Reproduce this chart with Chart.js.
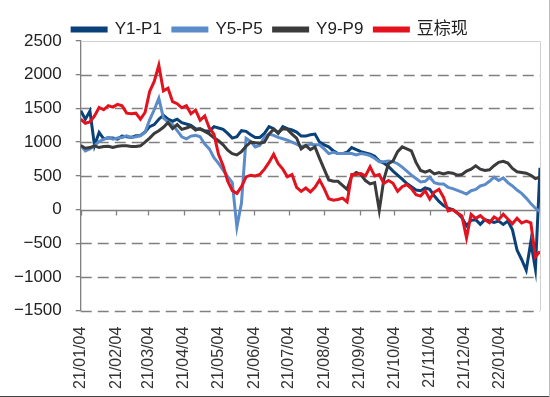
<!DOCTYPE html>
<html>
<head>
<meta charset="utf-8">
<script src="https://cdn.jsdelivr.net/npm/chart.js@4.4.0/dist/chart.umd.min.js"></script>
<style>
  html, body { margin: 0; padding: 0; background: #fff; }
</style>
</head>
<body>
<canvas id="spreadChart" width="550" height="397"></canvas>
<script>
// x = days since 2021/01/04, one reading every 4 days
const sampleDays = Array.from({ length: 101 }, (_, i) => i * 4);

const monthTickDays = [0, 31, 59, 90, 120, 151, 181, 212, 243, 273, 304, 334, 365];
const monthTickLabels = ['21/01/04', '21/02/04', '21/03/04', '21/04/04', '21/05/04', '21/06/04',
  '21/07/04', '21/08/04', '21/09/04', '21/10/04', '21/11/04', '21/12/04', '22/01/04'];

const yTicks = [-1500, -1000, -500, 0, 500, 1000, 1500, 2000, 2500];

const seriesNames = ['Y1-P1', 'Y5-P5', 'Y9-P9', '豆棕现'];

const y1p1 = [
  1465, 1340, 1460, 950, 1145, 1050, 1060, 1060, 1045, 1090,
  1080, 1070, 1095, 1100, 1150, 1230, 1260, 1340, 1400, 1340,
  1310, 1340, 1290, 1270, 1250, 1200, 1190, 1170, 1160, 1230,
  1210, 1190, 1130, 1060, 1080, 1170, 1160, 1110, 1070, 1070,
  1130, 1230, 1200, 1130, 1230, 1200, 1180, 1150, 1090, 1090,
  1110, 1120, 1000, 960, 930, 870, 830, 830, 850, 920,
  890, 860, 840, 820, 790, 720, 690, 640, 570, 510,
  450, 386, 340, 290, 280, 320, 300, 200, 120, 60,
  20, 0, -50, -120, -240, -160, -150, -220, -150, -170,
  -190, -170, -220, -170, -300, -600, -740, -900, -480, -880,
  620
];

const y5p5 = [
  950, 870, 900, 950, 1010, 1040, 1070, 1045, 1060, 1070,
  1095, 1070, 1080, 1095, 1145, 1330, 1480, 1650, 1360, 1300,
  1260, 1170, 1080, 1050, 1090, 1100, 1080, 970, 900, 770,
  685, 585, 490, 400, -260, 100, 1055, 1010, 930, 955,
  1080, 1120, 1100, 1070, 1050, 1030, 1000, 970, 935, 950,
  970, 960, 960, 900, 830, 850, 830, 830, 830, 830,
  810, 830, 820, 800, 760, 710, 708, 720, 710, 680,
  630, 570, 510, 460, 410, 420, 480, 400, 380, 380,
  330, 310, 285, 260, 230, 280, 300, 350, 370, 420,
  480, 430, 470, 400, 350, 290, 240, 170, 90, 20,
  -30
];

const y9p9 = [
  950, 910, 920, 945, 920, 935, 940, 920, 940, 945,
  945, 935, 935, 945, 1000, 1060, 1130, 1170, 1220, 1290,
  1200, 1260, 1190, 1210, 1235, 1180, 1200, 1160, 1120, 1065,
  1020, 960, 880, 830, 810, 860, 940, 1000, 990, 985,
  1000, 1120, 1190, 1140, 1200, 1190, 1120, 1060, 900, 950,
  890, 930, 760, 600, 440, 420, 420, 360, 300, 500,
  550, 520, 430, 380, 400, -10, 450, 680, 720, 860,
  930, 900, 870, 700, 580, 555, 580, 530, 550, 530,
  550, 540, 510, 520, 570, 600, 650, 600, 580, 590,
  650, 700, 715, 690, 610, 560, 550, 540, 510, 460,
  480
];

const spotSpread = [
  1340, 1280, 1300, 1390, 1515, 1480, 1540, 1520, 1560, 1540,
  1430, 1420, 1430, 1340, 1440, 1750, 1900, 2140, 1760, 1800,
  1600, 1570, 1510, 1540, 1420, 1475, 1325, 1390, 1210, 1120,
  820, 650, 420, 280, 240, 340, 485, 510, 500, 520,
  600, 700, 820, 680, 600, 485, 520, 330, 270, 320,
  262, 330, 440, 312, 160, 140, 150, 170, 114, 520,
  520, 535, 500, 634, 500, 520, 387, 430, 390, 270,
  340, 370, 310, 220, 200, 280, 155, 260, 300, 180,
  -20, 0, -50, -95, -420, -70, -130, -90, -150, -195,
  -110, -150, -70, -140, -210, -130, -200, -170, -195, -700,
  -620
];

const lineColors = ['#0b4179', '#5b8bc8', '#3b3b3b', '#e2131e'];
const fontFamily = '"Liberation Sans", "Noto Sans CJK SC", sans-serif';

const toPoints = (vals) => vals.map((v, i) => ({ x: sampleDays[i], y: v }));

// legend sits lower, close to the plot
const tightLegend = {
  id: 'tightLegend',
  afterInit(chart) {
    const legend = chart.legend;
    if (!legend) return;
    const fit = legend.fit.bind(legend);
    legend.fit = () => { fit(); legend.height -= 7; };
  }
};

// dashed value lines, solid zero line with month ticks, light frame, picture edges
const extraLines = {
  id: 'extraLines',
  beforeDatasetsDraw(chart) {
    const { ctx, chartArea, scales } = chart;
    const left = chartArea.left, right = chartArea.right;
    ctx.save();
    ctx.lineWidth = 1.3;
    ctx.strokeStyle = '#808080';
    ctx.setLineDash([11, 6]);
    yTicks.forEach(v => {
      if (v === 0 || v === 2500) return;
      const y = Math.round(scales.y.getPixelForValue(v)) + 0.5;
      ctx.beginPath();
      ctx.moveTo(left, y);
      ctx.lineTo(right, y);
      ctx.stroke();
    });
    ctx.setLineDash([]);

    ctx.strokeStyle = '#d0d0d0';
    ctx.lineWidth = 1;
    ctx.beginPath();
    ctx.moveTo(left, chartArea.top + 0.5);
    ctx.lineTo(right + 0.5, chartArea.top + 0.5);
    ctx.lineTo(right + 0.5, chartArea.bottom);
    ctx.stroke();

    const y0 = Math.round(scales.y.getPixelForValue(0)) + 0.5;
    ctx.strokeStyle = '#808080';
    ctx.lineWidth = 1.3;
    ctx.beginPath();
    ctx.moveTo(left, y0);
    ctx.lineTo(right, y0);
    ctx.stroke();
    monthTickDays.forEach(d => {
      const x = Math.round(scales.x.getPixelForValue(d)) + 0.5;
      ctx.beginPath();
      ctx.moveTo(x, y0);
      ctx.lineTo(x, y0 + 5);
      ctx.stroke();
    });
    ctx.restore();
  },
  afterDraw(chart) {
    const { ctx, width, height } = chart;
    ctx.save();
    ctx.strokeStyle = '#444';
    ctx.lineWidth = 1;
    ctx.beginPath();
    ctx.moveTo(0, height - 0.5);
    ctx.lineTo(width, height - 0.5);
    ctx.stroke();
    ctx.strokeStyle = '#bbb';
    ctx.beginPath();
    ctx.moveTo(width - 0.5, 0);
    ctx.lineTo(width - 0.5, height);
    ctx.stroke();
    ctx.restore();
  }
};

const allSeries = [y1p1, y5p5, y9p9, spotSpread];

new Chart(document.getElementById('spreadChart').getContext('2d'), {
  type: 'line',
  data: {
    datasets: allSeries.map((vals, i) => ({
      label: seriesNames[i],
      data: toPoints(vals),
      borderColor: lineColors[i],
      backgroundColor: lineColors[i],
      borderWidth: 3,
      pointRadius: 0,
      tension: 0,
      order: 4 - i
    }))
  },
  options: {
    responsive: false,
    animation: false,
    layout: { padding: { top: 10, right: 10, left: 0, bottom: 0 } },
    plugins: {
      legend: {
        position: 'top',
        labels: {
          boxWidth: 34,
          boxHeight: 3,
          padding: 11,
          color: '#222',
          font: { size: 17, family: fontFamily },
          sort: (a, b) => a.datasetIndex - b.datasetIndex
        }
      },
      tooltip: { enabled: false }
    },
    scales: {
      x: {
        type: 'linear',
        min: 0,
        max: 400,
        afterBuildTicks: axis => { axis.ticks = monthTickDays.map(v => ({ value: v })); },
        grid: { display: false },
        border: { display: false },
        ticks: {
          autoSkip: false,
          maxRotation: 90,
          minRotation: 90,
          padding: 8,
          color: '#333',
          font: { size: 16, family: fontFamily },
          callback: v => {
            const i = monthTickDays.indexOf(v);
            return i >= 0 ? monthTickLabels[i] : '';
          }
        }
      },
      y: {
        min: -1500,
        max: 2500,
        afterBuildTicks: axis => { axis.ticks = yTicks.map(v => ({ value: v })); },
        grid: {
          drawOnChartArea: false,
          color: '#808080',
          lineWidth: 1.3,
          tickLength: 5,
          tickColor: '#808080'
        },
        border: { color: '#808080', width: 1.3 },
        ticks: {
          padding: 14,
          color: '#222',
          font: { size: 17, family: fontFamily },
          callback: v => (v < 0 ? '\u2212' + Math.abs(v) : String(v))
        }
      }
    }
  },
  plugins: [tightLegend, extraLines]
});
</script>
</body>
</html>
